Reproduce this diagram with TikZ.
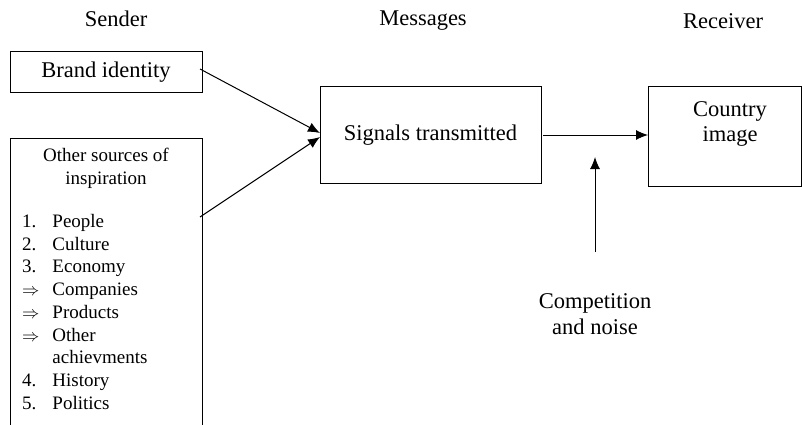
\documentclass[tikz,border=0pt]{standalone}
\usepackage{fontspec}
\setmainfont{Liberation Serif}
\usetikzlibrary{arrows.meta,calc}
\begin{document}
\begin{tikzpicture}[x=1pt,y=-1pt,
  box/.style={draw,line width=1pt,inner sep=0pt,outer sep=0pt},
  big/.style={font=\fontsize{22.5}{26}\selectfont},
  small/.style={font=\fontsize{19}{22.7}\selectfont},
  arr/.style={line width=1pt,-{Latex[length=12pt,width=10pt]}}]
\useasboundingbox (0,0) rectangle (802,425);
% headers
\node[big] (hs) at (116,19) {Sender};
\node[big] (hm) at (423,21) {Messages};
\node[big] (hr) at (723,21) {Receiver};
% boxes
\node[box,big,minimum width=192pt,minimum height=41pt] (brand) at (106,72.5) {Brand identity};
\node[box,big,minimum width=221pt,minimum height=96pt] (signals) at (430.5,135) {Signals transmitted};
\node[box,minimum width=153pt,minimum height=99pt] (countrybox) at (724.5,136.5) {};
\node[big,align=center] (country) at (730,124) {Country\\[-1pt]image};
% other sources open box
\draw[line width=1pt] (10,425) -- (10,138) -- (202,138) -- (202,425);
\node[small,align=center] (other) at (106,168.5) {Other sources of\\inspiration};
\node[small,align=left,anchor=north west,inner sep=0pt] (list) at (22,211.5) {%
\begin{tabular}{@{}l@{\hspace{13pt}}l@{}}
1. & People\\
2. & Culture\\
3. & Economy\\
$\Rightarrow$ & Companies\\
$\Rightarrow$ & Products\\
$\Rightarrow$ & Other\\
 & achievments\\
4. & History\\
5. & Politics
\end{tabular}};
% coordinates
\coordinate (bOut) at (200,69);
\coordinate (oOut) at (200,217);
\coordinate (sIn1) at (320,133);
\coordinate (sIn2) at (320,137);
\coordinate (sOut) at (543,135);
\coordinate (cIn) at (648,135);
\coordinate (nTip) at (595,157);
\coordinate (nBase) at (595,252);
% connectors
\draw[arr] (bOut) -- (sIn1);
\draw[arr] (oOut) -- (sIn2);
\draw[arr] (sOut) -- (cIn);
\draw[arr] (nBase) -- (nTip);
\node[big,align=center] (noise) at (595,314) {Competition\\and noise};
\end{tikzpicture}
\end{document}
